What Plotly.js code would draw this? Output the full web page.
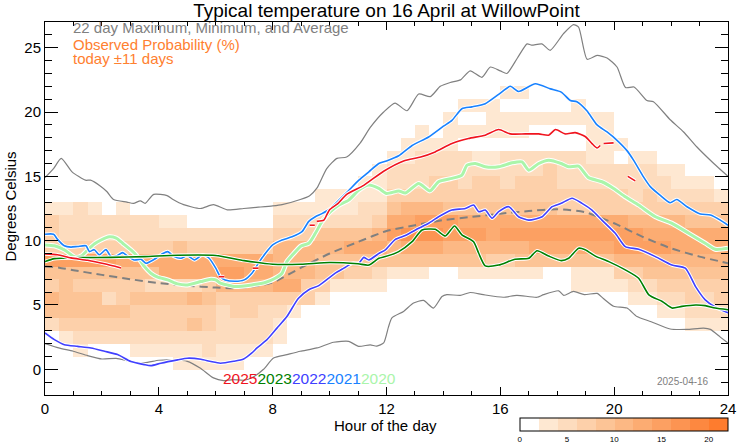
<!DOCTYPE html>
<html>
<head>
<meta charset="utf-8">
<script src="https://cdn.plot.ly/plotly-3.0.1.min.js"></script>
<style>html,body{margin:0;padding:0;background:#fff;}#chart{width:742px;height:445px;}</style>
</head>
<body>
<div id="chart"></div>
<script>
// ---------- Observed probability (%) : one array per half-hour column, rows = 1 °C bins from -1 to 23 ----------
const probCols = [
 [0,0,0,0,5,9,11,7,9,15,7,7,7,3,0,0,0,0,0,0,0,0,0,0],
 [0,0,0,3,7,9,9,9,9,15,7,5,5,3,0,0,0,0,0,0,0,0,0,0],
 [0,0,3,5,7,9,9,7,9,15,7,5,5,5,0,0,0,0,0,0,0,0,0,0],
 [0,0,0,5,7,9,9,7,9,15,7,5,5,3,0,0,0,0,0,0,0,0,0,0],
 [0,0,0,5,7,9,5,7,9,15,7,5,5,0,0,0,0,0,0,0,0,0,0,0],
 [0,0,0,5,7,9,7,7,9,13,7,5,5,3,0,0,0,0,0,0,0,0,0,0],
 [0,0,3,5,7,7,9,7,9,13,7,5,5,0,0,0,0,0,0,0,0,0,0,0],
 [0,0,3,5,7,7,9,5,9,13,7,5,5,0,0,0,0,0,0,0,0,0,0,0],
 [0,0,3,5,7,7,9,5,13,13,7,5,3,0,0,0,0,0,0,0,0,0,0,0],
 [0,3,3,5,7,7,9,5,13,13,9,5,3,0,0,0,0,0,0,0,0,0,0,0],
 [0,3,3,5,9,7,11,5,13,13,7,5,0,0,0,0,0,0,0,0,0,0,0,0],
 [0,3,5,5,7,7,9,7,13,13,7,5,0,0,0,0,0,0,0,0,0,0,0,0],
 [0,3,3,5,5,5,7,11,15,13,7,5,0,0,0,0,0,0,0,0,0,0,0,0],
 [0,3,3,5,5,7,7,11,15,13,7,5,0,0,0,0,0,0,0,0,0,0,0,0],
 [0,0,3,5,5,7,7,11,13,13,7,5,0,0,0,0,0,0,0,0,0,0,0,0],
 [0,0,3,5,5,5,7,11,13,13,7,5,0,0,0,0,0,0,0,0,0,0,0,0],
 [0,0,0,3,3,5,7,13,11,11,11,7,5,3,0,0,0,0,0,0,0,0,0,0],
 [0,0,0,0,0,3,7,13,11,11,11,7,5,3,0,0,0,0,0,0,0,0,0,0],
 [0,0,0,0,0,0,7,7,11,11,11,7,5,3,0,0,0,0,0,0,0,0,0,0],
 [0,0,0,0,0,0,3,7,9,9,11,9,5,3,3,0,0,0,0,0,0,0,0,0],
 [0,0,0,0,0,0,0,3,9,9,11,9,5,3,3,0,0,0,0,0,0,0,0,0],
 [0,0,0,0,0,0,0,3,7,9,13,9,5,3,3,0,0,0,0,0,0,0,0,0],
 [0,0,0,0,0,0,0,3,7,9,13,9,5,5,3,3,0,0,0,0,0,0,0,0],
 [0,0,0,0,0,0,0,3,5,9,13,11,7,5,3,3,3,0,0,0,0,0,0,0],
 [0,0,0,0,0,0,0,0,3,9,11,15,13,9,7,5,5,3,0,0,0,0,0,0],
 [0,0,0,0,0,0,0,0,3,9,13,17,13,11,7,5,5,3,3,0,0,0,0,0],
 [0,0,0,0,0,0,0,0,3,9,13,17,15,11,7,5,5,5,3,3,0,0,0,0],
 [0,0,0,0,0,0,0,0,0,9,13,17,15,11,7,7,5,5,3,0,0,0,0,0],
 [0,0,0,0,0,0,0,0,0,9,11,15,15,9,7,7,5,5,3,3,3,0,0,0],
 [0,0,0,0,0,0,0,0,3,9,11,15,13,9,7,5,5,5,0,3,0,3,0,0],
 [0,0,0,0,0,0,0,0,3,9,11,15,13,9,7,7,5,3,0,3,0,3,0,0],
 [0,0,0,0,0,0,0,0,3,7,11,13,13,9,7,7,5,3,0,3,3,3,0,0],
 [0,0,0,0,0,0,0,0,3,7,11,15,13,9,7,5,5,5,0,3,3,0,3,0],
 [0,0,0,0,0,0,0,0,3,9,11,15,13,9,7,7,5,5,0,3,3,0,3,0],
 [0,0,0,0,0,0,0,0,3,9,13,15,13,9,7,7,5,5,0,0,3,0,0,0],
 [0,0,0,0,0,0,0,0,0,9,13,15,13,9,7,7,7,5,0,0,3,0,0,0],
 [0,0,0,0,0,0,0,0,0,9,13,15,13,7,7,5,5,5,0,0,3,0,0,0],
 [0,0,0,0,0,0,0,3,3,9,13,15,13,7,7,5,5,5,0,0,3,3,0,0],
 [0,0,0,0,0,0,0,3,3,9,13,15,13,7,7,5,5,3,3,3,3,0,0,0],
 [0,0,0,0,0,0,0,3,3,9,13,15,13,7,7,5,5,3,3,3,3,0,0,0],
 [0,0,0,0,0,0,0,3,7,11,15,15,13,7,7,5,5,0,3,0,0,0,0,0],
 [0,0,0,0,0,0,3,5,7,11,15,15,11,7,5,5,5,3,0,0,0,0,0,0],
 [0,0,0,0,0,0,3,5,9,11,15,13,11,7,7,5,5,3,0,0,0,0,0,0],
 [0,0,0,0,0,3,5,7,9,11,15,13,11,7,5,5,3,0,0,0,0,0,0,0],
 [0,0,0,0,0,3,5,7,9,11,13,13,11,7,5,3,3,0,0,0,0,0,0,0],
 [0,0,0,0,3,5,7,7,9,11,13,13,9,7,5,3,0,0,0,0,0,0,0,0],
 [0,0,0,0,3,5,5,7,9,11,13,13,9,7,5,3,0,0,0,0,0,0,0,0],
 [0,0,0,0,3,5,7,7,9,11,13,13,9,7,3,0,0,0,0,0,0,0,0,0]
];

// ---------- 22 day maximum / minimum / average ----------
const maxHour = [0,0.3,0.57,0.95,1.42,1.6,1.94,2.18,2.41,2.88,3.11,3.35,3.52,3.82,4.29,4.5,4.87,5.46,5.92,6.4,6.98,7.5,8.0,8.33,8.97,9.3,9.56,9.9,10.26,10.6,11.08,11.43,11.9,12.3,12.72,13.13,13.54,13.89,14.24,14.6,14.94,15.35,15.65,16.0,16.23,16.6,16.94,17.1,17.46,17.75,18.22,18.57,18.75,19.05,19.4,19.75,20.1,20.4,20.7,21.15,21.38,21.97,22.44,22.9,23.5,24];
const maxTemp = [14.9,15.6,16.4,15.35,14.7,14.7,14.25,13.8,13.2,13.0,12.9,13.1,12.9,13.6,13.5,13.2,12.8,12.5,12.8,12.4,12.5,12.6,12.7,12.8,13.2,13.5,14.1,15.6,16.4,16.5,17.6,18.8,20.0,20.7,20.1,21.4,21.2,22.0,22.3,22.5,23.2,22.7,23.5,23.2,23.0,24.2,25.3,25.2,25.3,24.8,26.1,26.8,26.6,24.1,24.4,24.2,23.5,21.9,21.95,20.9,20.8,19.4,18.45,17.3,16.0,15.0];

const minHour = [0,0.48,0.99,1.5,2.0,2.5,3.0,3.5,4.0,4.5,5.0,5.45,5.92,6.27,6.6,7.0,7.3,7.68,8.03,8.5,8.97,9.56,10.14,10.67,11.02,11.43,11.66,11.9,12.07,12.19,12.6,12.95,13.3,13.65,13.95,14.12,14.59,14.94,15.4,16.1,16.58,17.29,17.52,18.05,18.23,18.57,18.95,19.4,19.62,19.98,20.45,20.8,21.3,21.97,22.55,23.14,23.38,23.73,24];
const minTemp = [2.0,1.66,1.4,1.06,0.8,0.85,0.62,0.5,0.7,0.72,0.62,0.1,-0.67,-0.88,-0.8,-0.85,-0.62,0.0,0.88,1.14,1.4,1.66,2.1,2.17,1.78,1.9,1.8,2.05,3.3,4.0,4.5,5.15,5.35,4.76,5.66,5.8,5.75,5.97,5.8,5.6,5.75,5.6,5.8,6.1,5.75,6.05,5.8,5.9,5.5,4.9,4.76,4.1,3.7,3.13,3.1,3.2,3.1,2.5,2.05];

const avgHour = [0,0.5,1,2,3,4,5,6,6.6,7.2,8,9,10,11,12,13,14,15,16,17,18,19,20,21,22,23,24];
const avgTemp = [8.0,7.9,7.7,7.34,7.0,6.7,6.5,6.35,6.3,6.4,6.75,7.9,9.0,9.9,10.75,11.2,11.6,11.85,12.1,12.3,12.45,12.2,11.35,10.3,9.4,8.76,8.25];

// ---------- individual years ----------
const hour2020 = [0,0.33,0.68,1.03,1.27,1.5,1.73,1.97,2.26,2.5,2.73,3.02,3.25,3.49,3.72,3.96,4.31,4.66,5.0,5.48,5.83,6.0,6.16,6.4,6.68,7.27,7.74,8.09,8.33,8.5,8.74,9.0,9.27,9.5,9.73,10.03,10.33,10.67,11.03,11.38,11.73,12.0,12.43,12.66,13.13,13.53,13.83,14.3,14.65,14.83,15.12,15.47,15.94,16.41,16.76,17.0,17.35,17.7,18.14,18.4,18.75,19.1,19.57,19.98,20.39,20.86,21.45,22.03,22.62,23.2,23.55,24];
const temp2020 = [9.67,9.6,9.28,8.76,8.8,9.28,9.74,10.05,10.3,10.2,9.8,9.28,8.76,8.0,7.47,7.16,6.95,6.64,6.56,6.82,7.0,6.95,6.7,6.56,6.43,6.56,6.75,7.08,7.47,8.37,9.0,9.59,9.8,10.57,11.47,12.25,12.77,13.15,13.93,14.32,14.06,13.67,13.87,13.7,14.45,13.87,14.58,14.84,15.1,15.87,16.0,15.74,15.74,16.05,16.12,15.48,16.0,16.26,16.0,15.74,15.8,14.9,14.58,14.06,13.41,12.77,11.86,11.35,10.57,9.8,9.33,9.41];

const hour2021 = [0,0.3,0.44,0.68,0.91,1.15,1.44,1.56,1.73,1.91,2.14,2.32,2.5,2.73,2.9,3.14,3.37,3.55,3.84,4.14,4.31,4.54,4.78,5.0,5.25,5.54,5.77,6.0,6.16,6.33,6.68,7.0,7.27,7.5,7.74,8.0,8.33,8.68,9.03,9.27,9.5,9.73,10.03,10.33,10.67,11.03,11.38,11.73,12.0,12.43,12.9,13.48,14.0,14.3,14.65,15.0,15.47,15.94,16.35,16.64,17.23,17.76,18.14,18.46,18.69,19.04,19.4,19.75,20.1,20.45,20.68,21.03,21.27,21.61,21.97,22.2,22.56,23.03,23.38,23.73,24];
const temp2021 = [10.5,10.5,10.1,9.6,9.5,9.55,9.6,9.15,9.3,8.9,9.3,8.76,8.8,9.07,8.8,8.5,8.55,8.24,8.55,9.0,9.15,8.76,8.63,8.84,8.5,8.9,8.63,7.86,7.2,6.95,6.84,6.95,7.47,8.25,9.0,9.67,10.05,10.3,10.7,11.5,11.86,12.1,12.5,13.15,13.9,14.7,15.35,16.0,16.2,16.6,17.4,18.06,18.9,19.35,20.26,20.4,20.65,21.37,22.0,21.6,22.2,21.8,21.55,20.9,20.8,20.1,19.0,18.45,17.8,17.0,16.26,14.96,14.2,13.54,12.95,13.2,12.64,12.07,12.0,11.6,11.2];

const hour2022 = [0,0.33,0.68,1.15,1.62,2.09,2.55,3.02,3.49,3.72,4.07,4.66,5.0,5.48,5.83,6.16,6.63,6.98,7.27,7.45,7.8,8.15,8.5,8.9,9.27,9.62,9.97,10.2,10.5,10.8,11.03,11.2,11.38,11.73,11.96,12.31,12.66,13.13,13.48,13.83,14.3,14.77,15.06,15.24,15.47,15.71,15.94,16.3,16.64,17.0,17.47,17.82,18.14,18.52,18.87,19.22,19.57,20.04,20.39,20.86,21.45,22.03,22.5,22.86,23.2,23.55,24];
const temp2022 = [2.82,2.3,1.91,1.78,1.65,1.4,1.14,0.6,0.36,0.28,0.47,0.73,0.86,0.78,0.6,0.47,0.62,0.8,1.27,1.66,2.3,3.2,4.1,5.5,6.18,6.5,7.08,7.47,7.86,8.25,8.25,8.7,8.5,9.0,9.28,10.1,10.4,10.96,11.35,11.86,12.38,12.5,12.77,12.25,12.38,11.74,12.25,12.64,11.86,11.6,11.86,12.64,12.9,13.3,12.9,12.38,11.6,10.57,9.54,9.33,8.76,8.1,7.86,6.43,5.4,4.84,4.4];

const hour2023 = [0,0.33,1.15,2.32,3.49,4.66,6.0,7.0,8.0,9.0,10.0,11.0,11.38,11.73,11.96,12.43,12.9,13.25,13.71,14.07,14.39,14.65,15.06,15.24,15.47,15.94,16.52,17.0,17.29,17.7,18.14,18.4,18.75,18.98,19.34,19.81,20.39,20.86,21.22,21.69,22.03,22.38,22.86,23.2,23.55,24];
const temp2023 = [8.37,8.6,8.68,8.7,8.76,8.87,8.85,8.45,8.17,8.17,8.3,8.2,8.1,8.63,8.76,9.15,9.92,10.83,10.88,10.36,11.14,10.45,9.92,9.02,8.04,8.1,8.56,8.63,9.22,8.8,8.45,8.63,9.41,9.3,8.8,8.37,7.73,7.08,5.79,5.27,4.76,4.89,5.0,4.95,4.76,4.63];

const hour2025 = [0,0.44,0.91,1.5,2.09,2.67,2.7,6.1,6.3,6.35,7.3,7.5,7.55,9.3,9.48,9.5,9.55,9.8,9.9,10.0,10.3,10.6,11.2,11.9,12.6,13.2,13.71,14.3,14.88,15.47,15.94,16.35,16.88,17.35,17.7,17.94,18.28,18.63,18.98,19.22,19.4,19.51,19.56,19.63,19.98,20.1,20.48,20.74];
const temp2025 = [8.97,8.9,8.66,8.47,8.2,7.88,null,7.2,7.2,null,7.86,7.86,null,11.2,11.2,null,11.5,11.6,12.0,12.4,12.9,13.6,14.3,15.4,16.2,16.5,16.9,17.55,17.94,18.2,18.64,18.3,18.3,18.3,18.2,18.64,18.3,18.4,18.1,17.55,17.2,17.4,null,17.55,17.6,null,15.0,14.65];

const yearLabels = ['2025','2023','2022','2021','2020'];
const xTicks = [0,4,8,12,16,20,24];
const yTicks = [0,5,10,15,20,25];
const cbTicks = [0,5,10,15,20];

// ---------- styles ----------
const FONT = 'Liberation Sans, Arial, Helvetica, sans-serif';
const GRAY = 'rgb(128,128,128)';
const yearColors = {'2025':'rgb(240,20,30)','2023':'rgb(0,128,0)','2022':'rgb(64,64,255)','2021':'rgb(25,130,255)','2020':'rgb(170,245,170)'};
const bandColors = ['#ffffff','rgb(254,232,210)','rgb(253,220,190)','rgb(253,208,170)','rgb(252,196,150)','rgb(252,184,132)','rgb(252,172,114)','rgb(252,160,98)','rgb(252,148,82)','rgb(253,136,64)','rgb(254,124,46)'];
const colorscale = [];
bandColors.forEach((c,i)=>{ colorscale.push([i/bandColors.length,c]); colorscale.push([(i+1)/bandColors.length,c]); });

const traces = [];
traces.push({
  type:'heatmap', z:probCols, transpose:true, x0:0.25, dx:0.5, y0:-0.5, dy:1,
  zmin:0, zmax:22, colorscale:colorscale, zsmooth:false, hoverinfo:'skip',
  colorbar:{orientation:'h', x:0.695, xanchor:'left', len:0.305, lenmode:'fraction',
    y:-0.061, yanchor:'top', thickness:13, xpad:0, ypad:0,
    outlinewidth:1, outlinecolor:'black', ticks:'', tickvals:cbTicks,
    tickfont:{size:8, family:FONT, color:'black'}}
});
function line(x,y,color,width,dash){
  return {type:'scatter', mode:'lines', x:x, y:y, hoverinfo:'skip', connectgaps:false,
    line:{color:color, width:width, dash:dash||'solid', shape:'spline', smoothing:0.6}};
}
traces.push(line(maxHour,maxTemp,GRAY,1.2));
traces.push(line(minHour,minTemp,GRAY,1.2));
traces.push(line(avgHour,avgTemp,GRAY,2,'8px,5px'));
const years = [['2020',hour2020,temp2020,3],['2021',hour2021,temp2021,1.6],['2022',hour2022,temp2022,1.6],['2023',hour2023,temp2023,1.6],['2025',hour2025,temp2025,1.6]];
years.forEach(([yr,h,t,w])=>{
  traces.push(line(h,t,'white',w+2));
  traces.push(line(h,t,yearColors[yr],w));
});

const yearText = yearLabels.map(y=>'<span style="color:'+yearColors[y]+'">'+y+'</span>').join('');

const axisCommon = {showline:true, linecolor:'black', linewidth:1, mirror:'ticks', showgrid:false, zeroline:false,
  ticks:'inside', tickcolor:'black', tickwidth:1, tickfont:{size:15, family:FONT, color:'black'}};

const layout = {
  width:742, height:445,
  margin:{l:45, r:14, t:22, b:50, pad:0, autoexpand:false},
  paper_bgcolor:'white', plot_bgcolor:'white',
  font:{family:FONT, color:'black', size:15},
  showlegend:false,
  title:{text:'Typical temperature on 16 April at WillowPoint', font:{size:19, family:FONT, color:'black'},
    x:0.5, xref:'paper', xanchor:'center', y:0.977, yref:'container', yanchor:'middle'},
  xaxis:Object.assign({}, axisCommon, {range:[0,24], tickmode:'array', tickvals:xTicks, ticklen:8,
    minor:{tickmode:'linear', tick0:0, dtick:1, ticks:'inside', ticklen:4, tickcolor:'black', showgrid:false}}),
  yaxis:Object.assign({}, axisCommon, {range:[-2,27], tickmode:'array', tickvals:yTicks, ticklen:13,
    minor:{tickmode:'linear', tick0:0, dtick:1, ticks:'inside', ticklen:7, tickcolor:'black', showgrid:false}}),
  annotations:[
    {text:'22 day Maximum, Minimum, and Average', xref:'paper', yref:'paper', x:0.0395, y:0.985, xanchor:'left', yanchor:'middle', showarrow:false, borderpad:0, font:{size:15, color:GRAY, family:FONT}},
    {text:'Observed Probability (%)', xref:'paper', yref:'paper', x:0.0395, y:0.940, xanchor:'left', yanchor:'middle', showarrow:false, borderpad:0, font:{size:15, color:'rgb(255,128,48)', family:FONT}},
    {text:'today \u00b111 days', xref:'paper', yref:'paper', x:0.0395, y:0.903, xanchor:'left', yanchor:'middle', showarrow:false, borderpad:0, font:{size:15, color:'rgb(255,128,48)', family:FONT}},
    {text:yearText, xref:'paper', yref:'paper', x:0.257, y:0.043, xanchor:'left', yanchor:'middle', showarrow:false, font:{size:15.5, family:FONT}},
    {text:'2025-04-16', xref:'paper', yref:'paper', x:0.975, y:0.036, xanchor:'right', yanchor:'middle', showarrow:false, font:{size:10, color:GRAY, family:FONT}},
    {text:'Hour of the day', xref:'paper', yref:'paper', x:0.499, y:-0.082, xanchor:'center', yanchor:'middle', showarrow:false, font:{size:15, family:FONT, color:'black'}},
    {text:'Degrees Celsius', xref:'paper', yref:'paper', x:-0.05, y:0.505, xanchor:'center', yanchor:'middle', textangle:-90, showarrow:false, font:{size:15, family:FONT, color:'black'}}
  ]
};

Plotly.newPlot('chart', traces, layout, {staticPlot:true, displayModeBar:false});
</script>
</body>
</html>
